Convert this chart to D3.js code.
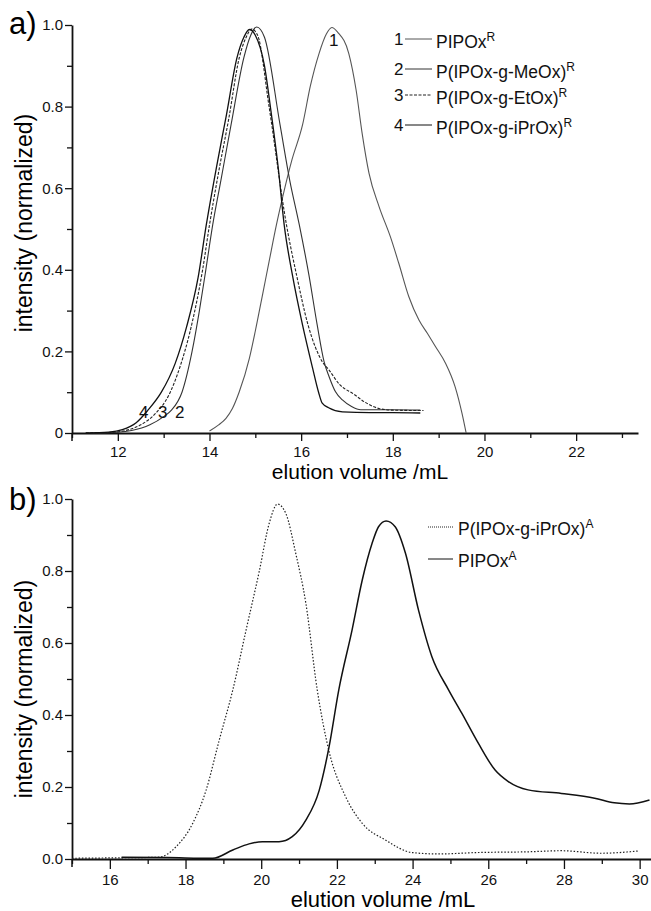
<!DOCTYPE html>
<html>
<head>
<meta charset="utf-8">
<script src="https://cdn.jsdelivr.net/npm/d3@7"></script>
<style>
  body { margin: 0; background: #fff; }
  svg { font-family: "Liberation Sans", Arial, sans-serif; }
  .axis path, .axis line { stroke: #111; }
  .axis text { font-size: 15px; fill: #111; font-family: "Liberation Sans", Arial, sans-serif; }
</style>
</head>
<body>
<script>
// Panel a) - elution volume (mL), normalized intensity
const pipoxR = [[14.0,0.005],[14.2,0.02],[14.36,0.036],[14.5,0.06],[14.65,0.101],[14.87,0.183],[15.0,0.25],[15.17,0.346],[15.3,0.42],[15.46,0.51],[15.6,0.58],[15.8,0.67],[16.03,0.755],[16.2,0.85],[16.39,0.93],[16.55,0.978],[16.67,0.994],[16.8,0.982],[17.04,0.93],[17.2,0.84],[17.33,0.735],[17.48,0.637],[17.7,0.555],[17.95,0.48],[18.13,0.416],[18.35,0.334],[18.57,0.277],[18.75,0.245],[18.93,0.212],[19.15,0.171],[19.36,0.113],[19.51,0.048],[19.6,0.0]]
const meoxR = [[11.4,0.0],[12.0,0.002],[12.3,0.006],[12.7,0.02],[13.0,0.04],[13.17,0.056],[13.4,0.1],[13.62,0.2],[13.78,0.3],[13.92,0.4],[14.07,0.51],[14.25,0.62],[14.47,0.755],[14.75,0.92],[14.9,0.975],[15.03,0.995],[15.2,0.97],[15.54,0.755],[15.75,0.62],[15.96,0.51],[16.17,0.387],[16.35,0.265],[16.5,0.175],[16.61,0.138],[16.75,0.101],[16.9,0.081],[17.1,0.065],[17.3,0.057],[18.0,0.057],[18.6,0.056]]
const etoxR = [[11.3,0.0],[11.9,0.002],[12.2,0.007],[12.5,0.02],[12.84,0.05],[13.1,0.09],[13.35,0.16],[13.6,0.26],[13.85,0.4],[14.0,0.51],[14.2,0.64],[14.42,0.77],[14.65,0.92],[14.8,0.97],[14.92,0.99],[15.05,0.975],[15.3,0.8],[15.68,0.51],[15.9,0.387],[16.15,0.265],[16.46,0.175],[16.61,0.154],[16.83,0.12],[17.15,0.095],[17.4,0.075],[17.7,0.06],[18.0,0.056],[18.67,0.055]]
const iproxR = [[11.3,0.0],[11.8,0.002],[12.1,0.008],[12.4,0.025],[12.65,0.055],[12.95,0.1],[13.25,0.17],[13.5,0.26],[13.75,0.38],[13.93,0.51],[14.15,0.65],[14.37,0.78],[14.6,0.92],[14.75,0.97],[14.87,0.989],[15.0,0.975],[15.2,0.9],[15.34,0.79],[15.5,0.65],[15.63,0.51],[15.81,0.387],[16.03,0.265],[16.25,0.159],[16.38,0.1],[16.46,0.073],[16.6,0.062],[16.9,0.052],[17.5,0.05],[18.0,0.05],[18.6,0.049]]

// Panel b)
const iproxA = [[15.0,0.002],[16.0,0.003],[17.3,0.005],[17.75,0.034],[18.19,0.099],[18.54,0.19],[18.89,0.33],[19.25,0.47],[19.6,0.636],[19.95,0.8],[20.21,0.932],[20.43,0.986],[20.65,0.96],[20.91,0.85],[21.18,0.71],[21.48,0.47],[21.79,0.3],[22.23,0.173],[22.67,0.099],[23.28,0.053],[23.98,0.018],[24.68,0.014],[25.74,0.018],[27.05,0.02],[27.93,0.023],[28.98,0.016],[29.95,0.022]]
const pipoxA = [[16.31,0.005],[17.5,0.004],[18.72,0.002],[19.25,0.025],[19.68,0.042],[20.03,0.048],[20.47,0.048],[20.82,0.062],[21.18,0.108],[21.53,0.19],[21.79,0.31],[22.05,0.47],[22.4,0.636],[22.67,0.775],[22.93,0.877],[23.1,0.923],[23.3,0.939],[23.54,0.923],[23.81,0.85],[24.16,0.69],[24.51,0.562],[24.95,0.47],[25.3,0.405],[25.74,0.321],[26.18,0.247],[26.53,0.215],[27.05,0.192],[27.93,0.182],[28.81,0.169],[29.33,0.156],[29.73,0.153],[30.26,0.164]]

const topMajorX = [12, 14, 16, 18, 20, 22]
const topMinorX = [11, 13, 15, 17, 19, 21, 23]
const botMajorX = [16, 18, 20, 22, 24, 26, 28, 30]
const botMinorX = [15, 17, 19, 21, 23, 25, 27, 29]
const majorY = [0, 0.2, 0.4, 0.6, 0.8, 1.0]
const minorY = [0.1, 0.3, 0.5, 0.7, 0.9]

const legendA = ['PIPOx', 'P(IPOx-g-MeOx)', 'P(IPOx-g-EtOx)', 'P(IPOx-g-iPrOx)']
const legendB = ['P(IPOx-g-iPrOx)', 'PIPOx']

const W = 651, H = 911

const svg = d3.select('body').append('svg')
  .attr('width', W).attr('height', H)

// Scales
const xA = d3.scaleLinear().domain([11, 23.35]).range([72, 638])
const yA = d3.scaleLinear().domain([0, 1]).range([433, 25])
const xB = d3.scaleLinear().domain([15, 30.3]).range([72, 651])
const yB = d3.scaleLinear().domain([0, 1]).range([859, 499])

const drawAxes = (x, y, major, minor, yFmt, xTick, xPad) => {
  const y0 = y.range()[0]
  svg.append('g').attr('class', 'axis')
    .attr('transform', `translate(0,${y0})`)
    .call(d3.axisBottom(x).tickValues(minor).tickSize(5).tickFormat('').tickSizeOuter(0))
    .call(g => g.select('.domain').remove())
    .selectAll('line').attr('stroke-width', 1.3)
  svg.append('g').attr('class', 'axis')
    .attr('transform', `translate(0,${y0})`)
    .call(d3.axisBottom(x).tickValues(major).tickSize(xTick).tickPadding(xPad).tickSizeOuter(0))
    .call(g => g.select('.domain').attr('stroke-width', 1.8))
    .selectAll('line').attr('stroke-width', 1.3)
  svg.append('g').attr('class', 'axis')
    .attr('transform', `translate(72,0)`)
    .call(d3.axisLeft(y).tickValues(minorY).tickSize(5).tickFormat('').tickSizeOuter(0))
    .call(g => g.select('.domain').remove())
    .selectAll('line').attr('stroke-width', 1.3)
  svg.append('g').attr('class', 'axis')
    .attr('transform', `translate(72,0)`)
    .call(d3.axisLeft(y).tickValues(majorY).tickSize(7).tickPadding(2).tickFormat(yFmt).tickSizeOuter(0))
    .call(g => g.select('.domain').attr('stroke-width', 1.8))
    .selectAll('line').attr('stroke-width', 1.3)
  // y axis runs a little below the x axis
  svg.append('line')
    .attr('x1', 72).attr('x2', 72)
    .attr('y1', y0).attr('y2', y0 + 8)
    .attr('stroke', '#111').attr('stroke-width', 1.5)
}

drawAxes(xA, yA, topMajorX, topMinorX, d => d === 0 ? '0' : d3.format('.1f')(d), 8, 5)
drawAxes(xB, yB, botMajorX, botMinorX, d3.format('.1f'), 10, 5)

// Curves
const lineA = d3.line().x(d => xA(d[0])).y(d => yA(d[1])).curve(d3.curveMonotoneX)
const lineB = d3.line().x(d => xB(d[0])).y(d => yB(d[1])).curve(d3.curveMonotoneX)

const seriesA = [
  { data: pipoxR, stroke: '#555', width: 1.1, dash: null },
  { data: meoxR, stroke: '#333', width: 1.1, dash: null },
  { data: etoxR, stroke: '#222', width: 1.1, dash: '3,1.5' },
  { data: iproxR, stroke: '#111', width: 1.3, dash: null }
]
seriesA.forEach(s => {
  svg.append('path')
    .attr('d', lineA(s.data))
    .attr('fill', 'none')
    .attr('stroke', s.stroke)
    .attr('stroke-width', s.width)
    .attr('stroke-dasharray', s.dash)
})

const seriesB = [
  { data: iproxA, stroke: '#222', width: 1.2, dash: '1.5,1.8' },
  { data: pipoxA, stroke: '#111', width: 1.5, dash: null }
]
seriesB.forEach(s => {
  svg.append('path')
    .attr('d', lineB(s.data))
    .attr('fill', 'none')
    .attr('stroke', s.stroke)
    .attr('stroke-width', s.width)
    .attr('stroke-dasharray', s.dash)
})

// Curve number labels
const numLabels = [['1', 329, 46], ['4', 139, 418], ['3', 158, 418], ['2', 175, 418]]
numLabels.forEach(([t, x, y]) => {
  svg.append('text').attr('x', x).attr('y', y)
    .style('font-size', '17px').attr('fill', '#111').text(t)
})

// Legend a)
const legRowsA = [45, 75, 101, 131]
legendA.forEach((t, i) => {
  const y = legRowsA[i]
  svg.append('text').attr('x', 394).attr('y', y)
    .style('font-size', '17px').attr('fill', '#111').text(i + 1)
  svg.append('line')
    .attr('x1', 405).attr('x2', 432).attr('y1', y - 6).attr('y2', y - 6)
    .attr('stroke', seriesA[i].stroke).attr('stroke-width', 1)
    .attr('stroke-dasharray', seriesA[i].dash)
  const txt = svg.append('text').attr('x', 436).attr('y', y + 3)
    .style('font-size', '17.5px').attr('fill', '#111')
  txt.append('tspan').text(t)
  txt.append('tspan').attr('dy', -7).style('font-size', '12px').text('R')
})

// Legend b)
const legRowsB = [535, 567]
legendB.forEach((t, i) => {
  const y = legRowsB[i]
  svg.append('line')
    .attr('x1', 428).attr('x2', 453).attr('y1', y - 8).attr('y2', y - 8)
    .attr('stroke', seriesB[i].stroke).attr('stroke-width', 1)
    .attr('stroke-dasharray', i === 0 ? '1,1' : null)
  const txt = svg.append('text').attr('x', 458).attr('y', y)
    .style('font-size', '17.5px').attr('fill', '#111')
  txt.append('tspan').text(t)
  txt.append('tspan').attr('dy', -7).style('font-size', '12px').text('A')
})

// Axis titles
svg.append('text').attr('x', 360).attr('y', 479)
  .attr('text-anchor', 'middle').style('font-size', '21px').text('elution volume /mL')
svg.append('text').attr('x', 383).attr('y', 907)
  .attr('text-anchor', 'middle').style('font-size', '22px').text('elution volume /mL')

svg.append('text')
  .attr('transform', 'translate(32,223) rotate(-90)')
  .attr('text-anchor', 'middle').style('font-size', '23px').text('intensity (normalized)')
svg.append('text')
  .attr('transform', 'translate(32,689) rotate(-90)')
  .attr('text-anchor', 'middle').style('font-size', '23px').text('intensity (normalized)')

// Panel letters
svg.append('text').attr('x', 9).attr('y', 34).style('font-size', '31px').text('a)')
svg.append('text').attr('x', 9).attr('y', 510).style('font-size', '31px').text('b)')
</script>
</body>
</html>
